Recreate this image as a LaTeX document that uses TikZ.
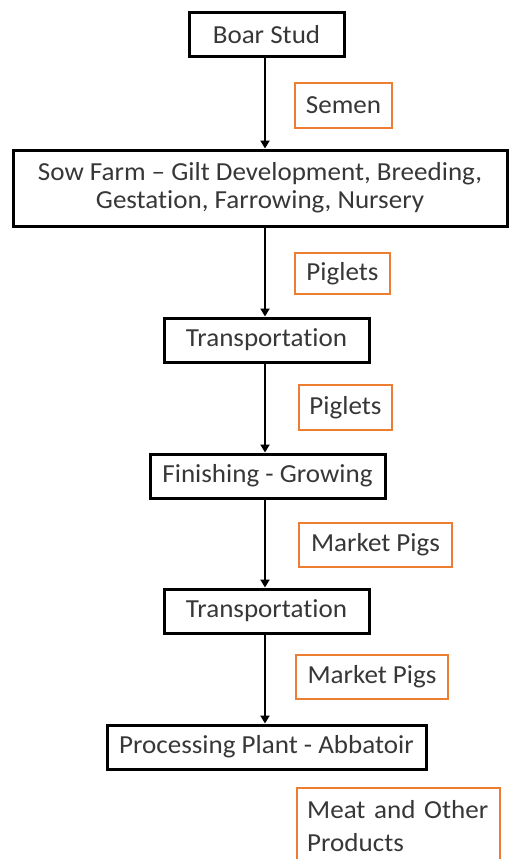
\documentclass[tikz,border=0pt]{standalone}
\usepackage{fontspec}
\setmainfont{Carlito}[Ligatures=NoCommon, FakeStretch=1.04]
\usetikzlibrary{arrows.meta}
\definecolor{txt}{RGB}{55,55,55}
\definecolor{orng}{RGB}{237,125,49}
\begin{document}
\begin{tikzpicture}[x=1pt,y=1pt,
  font=\fontsize{26}{28}\selectfont, text=txt,
  stage/.style={draw=black, line width=3pt, inner sep=0pt, align=center},
  flow/.style={draw=orng, line width=2.4pt, inner sep=0pt, align=center},
  arr/.style={draw=black, line width=2.6pt, -{Triangle[width=9pt,length=8pt]}}]
\useasboundingbox (0,0) rectangle (510,-859);
\clip (0,0) rectangle (510,-859);
\coordinate (spine) at (265,0);
\node[stage, minimum width=155, minimum height=44] (boar) at (266.5,-35) {Boar Stud};
\node[stage, minimum width=494, minimum height=76] (sow) at (260,-188) {Sow Farm – Gilt Development, Breeding,\\Gestation, Farrowing, Nursery};
\node[flow, minimum width=97, minimum height=45] (semen) at (343.5,-105.5) {Semen};
\node[flow, minimum width=95, minimum height=41] (pig1) at (342.5,-273.5) {Piglets};
\node[stage, minimum width=205, minimum height=44] (trans1) at (266.5,-340) {Transportation};
\node[flow, minimum width=93, minimum height=45] (pig2) at (345.5,-407.5) {Piglets};
\node[stage, minimum width=235, minimum height=44] (finish) at (267.5,-476) {Finishing - Growing};
\node[flow, minimum width=153, minimum height=44] (mkt1) at (375.5,-545) {Market Pigs};
\node[stage, minimum width=205, minimum height=44] (trans2) at (266.5,-611) {Transportation};
\node[flow, minimum width=152, minimum height=44] (mkt2) at (372,-677) {Market Pigs};
\node[stage, minimum width=319, minimum height=44] (proc) at (266.5,-747) {Processing Plant - Abbatoir};
\node[flow, anchor=north west, align=left, text width=183, inner xsep=10, inner ysep=12,
  font=\fontsize{26}{33}\selectfont] (meat) at (296,-787) {Meat and Other\\Products};
\draw[arr] (boar.south -| spine) -- (sow.north -| spine);
\draw[arr] (sow.south -| spine) -- (trans1.north -| spine);
\draw[arr] (trans1.south -| spine) -- (finish.north -| spine);
\draw[arr] (finish.south -| spine) -- (trans2.north -| spine);
\draw[arr] (trans2.south -| spine) -- (proc.north -| spine);
\end{tikzpicture}
\end{document}
